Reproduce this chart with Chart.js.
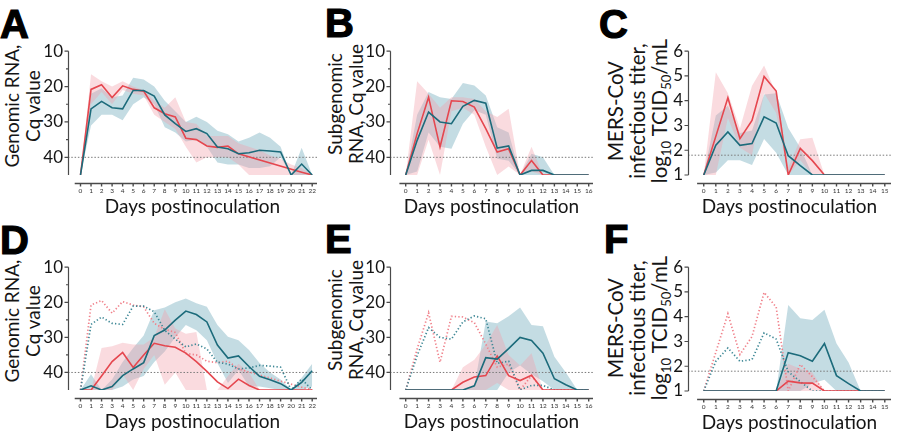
<!DOCTYPE html>
<html><head><meta charset="utf-8">
<script src="https://cdn.jsdelivr.net/npm/chart.js@4"></script>
<style>
body{margin:0;width:900px;height:439px;background:#fff;position:relative;overflow:hidden;font-family:Lato,sans-serif;}
canvas{position:absolute;}
.lt{position:absolute;font-family:"Liberation Sans",Arial,sans-serif;font-weight:bold;font-size:40px;line-height:40px;color:#000;-webkit-text-stroke:1.2px #000;}
.yt{position:absolute;white-space:nowrap;text-align:center;font-family:Lato,sans-serif;font-size:19px;line-height:21px;color:#151515;transform:translate(-50%,-50%) rotate(-90deg);}
.yt.t{font-size:20.5px;line-height:22px;}
.yt sub{font-size:13px;line-height:0;vertical-align:-4px;}
</style></head><body>
<div class="lt" style="left:0px;top:4px">A</div>
<div class="lt" style="left:325px;top:3px">B</div>
<div class="lt" style="left:599px;top:4px">C</div>
<div class="lt" style="left:0px;top:220px">D</div>
<div class="lt" style="left:325px;top:219px">E</div>
<div class="lt" style="left:604px;top:219px">F</div>
<div class="yt" style="left:21.5px;top:106px">Genomic RNA,<br>Cq value</div>
<div class="yt" style="left:345px;top:104px">Subgenomic<br>RNA, Cq value</div>
<div class="yt t" style="left:637px;top:111px">MERS-CoV<br>infectious titer,<br>log<sub>10</sub> TCID<sub>50</sub>/mL</div>
<div class="yt" style="left:21.5px;top:321px">Genomic RNA,<br>Cq value</div>
<div class="yt" style="left:345px;top:320px">Subgenomic<br>RNA, Cq value</div>
<div class="yt t" style="left:637px;top:328px">MERS-CoV<br>infectious titer,<br>log<sub>10</sub> TCID<sub>50</sub>/mL</div>
<script>
// ---------- data ----------
const days22 = [0,1,2,3,4,5,6,7,8,9,10,11,12,13,14,15,16,17,18,19,20,21,22];
const days16 = [0,1,2,3,4,5,6,7,8,9,10,11,12,13,14,15,16];
const days15 = [0,1,2,3,4,5,6,7,8,9,10,11,12,13,14,15];
const yTicksCq = [10,20,30,40];
const yMinorCq = [15,25,35];
const yTicksTiter = [1,2,3,4,5,6];
const cqLimit = 40;
const titerLimit = 1.8;
const xTitle = 'Days postinoculation';

// Panel A (genomic RNA)
const gRedA  = [45,20.8,19.5,23.1,19.8,20.8,21.3,26.0,27.7,28.6,34.6,35.0,36.8,37.2,36.8,39.0,null,null,null,null,null,44.2,45];
const gBlueA = [45,26.3,24.2,26.0,26.3,21.1,21.1,22.7,28.0,30.5,32.7,31.9,33.3,37.1,37.6,39.0,38.7,38.0,38.2,38.5,45,41.9,45];
const gRedHiA  = [45,16.5,18.5,20,18.5,20,21,24,26,23,30,30.5,34,34,34,36,37,38,39.5,40.5,42,43,45];
const gRedLoA  = [45,25,21.5,25,21,22,22.5,28,30,32,37,41.5,40,40,40,42,45,45,45,45,45,45,45];
const gBlueHiA = [45,22,20.5,23,22.5,17.5,18,20,24,27,30,28.5,30,32.5,33.5,35.5,34.5,33,34.5,37,45,37.3,45];
const gBlueLoA = [45,31,28,28,29.5,25,23,25,31.5,33,35.5,35,37,41.5,42,42,43,43,42.5,40,45,45,45];

// Panel B (subgenomic RNA)
const sRedB  = [45,33.3,23,37.1,24,24.2,25.8,31.9,38.5,37.6,45,40.9,45,45,45,45,45];
const sBlueB = [45,35.2,27.2,30,30.5,25.6,23.9,24.7,37.4,36.8,45,43.7,43.7,45,45,45,45];
const sRedHiB  = [45,18.5,22,26,23,23,23.5,27,28.6,26.3,45,37,45,45,45,45,45];
const sRedLoB  = [45,45,35,45,27,26,28,37,45,42.6,45,44,45,45,45,45,45];
const sBlueHiB = [45,28,21.5,23,23.5,19,19.7,22.5,31.5,33,45,39,40,45,45,45,45];
const sBlueLoB = [45,44,33,37,37.6,30.5,26.7,28,40.4,41,45,45,45,45,45,45,45];

// Panel C (infectious titer)
const tRedC  = [1,2.56,4.12,2.47,3.2,4.98,4.39,1.0,2.07,1.58,1,1,1,1,1,1];
const tBlueC = [1,2.2,2.74,2.2,2.27,3.35,3.1,1.78,1.38,1,1,1,1,1,1,1];
const tRedHiC  = [1,5.15,4.3,2.88,4.6,5.42,4.3,1.3,2.44,2.5,1,1,1,1,1,1];
const tRedLoC  = [1,1,3.3,2.1,1.8,4.3,3.5,1,1.6,1,1,1,1,1,1,1];
const tBlueHiC = [1,3.4,3.8,2.7,2.8,4.25,4.3,2.9,2.1,1,1,1,1,1,1,1];
const tBlueLoC = [1,1.1,1.6,1.6,1.4,2.45,1.9,1,1,1,1,1,1,1,1,1];

// Panel D (genomic RNA, second group)
const gRedD  = [45,45,41,36.9,34.3,38.6,35,31.7,32.4,32.8,34.5,36.9,39.7,42.7,44.6,41.9,43.7,45,45,45,45,45,45];
const gBlueD = [45,43.8,45,44,40.9,39,37.2,29.5,27.9,25.1,22.5,23.5,25.6,32.2,35.9,35.3,38.3,41.1,42.1,43.2,45,42.8,39.5];
const gRedHiD  = [45,45,33,32.5,31.5,32,32,30,22,27.5,29,28.5,45,45,41,37.5,40,45,45,45,45,45,45];
const gRedLoD  = [45,45,45,45,40.5,45,39,35,43.5,40,45,45,45,45,45,45,45,45,45,45,45,45,45];
const gBlueHiD = [45,40.5,45,42,37,33,29.5,22.3,21.5,20,18.9,20.3,21.3,26.5,29.8,30.8,33.6,37.3,40,42,45,41.5,37.5];
const gBlueLoD = [45,45,45,45,44,42,41,37,34,30,26.5,28,30.8,37.3,43,39.3,44,44,44.5,45,45,45,44];

// Panel E (subgenomic RNA, second group)
const sRedE  = [45,45,45,45,45,42.8,41.3,40.9,35.3,40.9,42.3,40.8,45,45,45,45,45];
const sBlueE = [45,45,45,45,45,45,43.8,35.8,36.2,33.2,30,30.9,34.5,41.8,43.5,45,45];
const sRedHiE  = [45,45,45,45,45,38.5,36.4,32,26.5,35,38,34.5,45,45,45,45,45];
const sRedLoE  = [45,45,45,45,45,45,45,45,43,45,45,45,45,45,45,45,45];
const sBlueHiE = [45,45,45,45,45,45,44,25.5,26,24,21.5,26.5,26.8,35.5,40,45,45];
const sBlueLoE = [45,45,45,45,45,45,45,45,45,40,38,40.5,42.5,45,45,45,45];

// Panel F (infectious titer, second group)
const tRedF  = [1,1,1,1,1,1,1,1.4,1.33,1.32,1,1,1,1,1,1];
const tBlueF = [1,1,1,1,1,1,1,2.55,2.42,2.2,2.92,1.62,1.3,1,1,1];
const tRedHiF  = [1,1,1,1,1,1,1,2.1,1.9,1.75,1,1,1,1,1,1];
const tRedLoF  = [1,1,1,1,1,1,1,1,1,1,1,1,1,1,1,1];
const tBlueHiF = [1,1,1,1,1,1,1,4.47,3.94,3.87,4.28,2.92,2.15,1,1,1];
const tBlueLoF = [1,1,1,1,1,1,1,1,1,1.3,1.45,1,1,1,1,1];

// ---------- styles ----------
const RED = '#e5474f';
const BLUE = '#1c6b7b';
const RED_DOT = '#f0808a';
const BLUE_DOT = '#3e8896';
const PINK_FILL = 'rgba(242,160,170,0.38)';
const BLUE_FILL = 'rgba(125,178,194,0.45)';
const AXIS = '#4a4a4a';

const prismAxes = {
  id: 'prismAxes',
  afterDraw(chart, args, o) {
    const {ctx, chartArea: ca, scales: {x, y}} = chart;
    ctx.save();
    ctx.strokeStyle = AXIS;
    ctx.lineWidth = 1.2;
    ctx.beginPath();
    const lx = Math.round(ca.left) + 0.5;
    ctx.moveTo(lx, ca.top); ctx.lineTo(lx, ca.bottom);
    o.yTicks.forEach(v => { const py = y.getPixelForValue(v); ctx.moveTo(lx - 4, py); ctx.lineTo(lx, py); });
    (o.yMinor || []).forEach(v => { const py = y.getPixelForValue(v); ctx.moveTo(lx - 2.5, py); ctx.lineTo(lx, py); });
    ctx.stroke();
    ctx.lineWidth = 1.4;
    ctx.beginPath();
    const by = Math.round(ca.bottom + 8) + 0.5;
    ctx.moveTo(x.getPixelForValue(o.xStart), by); ctx.lineTo(ca.right, by);
    o.days.forEach(d => { const px = x.getPixelForValue(d); ctx.moveTo(px, by); ctx.lineTo(px, by + 3); });
    ctx.stroke();
    ctx.restore();
  }
};

function makePanel(p) {
  const [pl, pt, pr, pb] = p.rect;
  const N = p.days[p.days.length - 1];
  const ppd = (p.dayN - p.day0) / N;
  const xMin = -(p.day0 - pl) / ppd;
  const xMax = N + (pr - p.dayN) / ppd;
  const CL = Math.round(pl) - 45, CT = Math.round(pt) - 12;
  const CW = Math.round(pr) + 6 - CL, CH = Math.round(pb) + 43 - CT;
  const cv = document.createElement('canvas');
  cv.width = CW; cv.height = CH;
  cv.style.left = CL + 'px'; cv.style.top = CT + 'px';
  cv.style.width = CW + 'px'; cv.style.height = CH + 'px';
  document.body.appendChild(cv);
  const pts = v => p.days.map((d, i) => ({x: d, y: v[i]}));
  const ds = [];
  ds.push({data: pts(p.blue), borderColor: BLUE, borderWidth: 1.6, order: 0, fill: false});
  ds.push({data: pts(p.red), borderColor: RED, borderWidth: 1.6, order: 1, fill: false, spanGaps: true});
  if (p.dotBlue) {
    ds.push({data: pts(p.dotBlue), borderColor: BLUE_DOT, borderWidth: 1.7, borderDash: [1.3, 2.2], order: 2, fill: false, spanGaps: true});
    ds.push({data: pts(p.dotRed), borderColor: RED_DOT, borderWidth: 1.7, borderDash: [1.3, 2.2], order: 3, fill: false, spanGaps: true});
  }
  ds.push({data: [{x: xMin, y: p.limit}, {x: xMax, y: p.limit}], borderColor: '#7a7a7a', borderWidth: 1, borderDash: [1.5, 1.8], order: 4, fill: false});
  ds.push({data: pts(p.redLo), borderWidth: 0, borderColor: 'rgba(0,0,0,0)', order: 5, fill: false});
  ds.push({data: pts(p.redHi), borderWidth: 0, borderColor: 'rgba(0,0,0,0)', backgroundColor: PINK_FILL, order: 5, fill: '-1'});
  ds.push({data: pts(p.blueLo), borderWidth: 0, borderColor: 'rgba(0,0,0,0)', order: 6, fill: false});
  ds.push({data: pts(p.blueHi), borderWidth: 0, borderColor: 'rgba(0,0,0,0)', backgroundColor: BLUE_FILL, order: 6, fill: '-1'});

  new Chart(cv, {
    type: 'line',
    data: {datasets: ds},
    options: {
      responsive: false, animation: false, events: [],
      layout: {padding: {left: 0, top: 12, right: 6, bottom: 0}},
      elements: {point: {radius: 0}, line: {tension: 0}},
      plugins: {legend: {display: false}, tooltip: {enabled: false},
        prismAxes: {yTicks: p.yTicks, yMinor: p.yMinor, days: p.days, xStart: -0.55}},
      scales: {
        x: {type: 'linear', min: xMin, max: xMax,
          border: {display: false},
          grid: {display: true, drawOnChartArea: false, color: 'rgba(0,0,0,0)', tickLength: 10},
          afterBuildTicks: s => { s.ticks = p.days.map(v => ({value: v})); },
          afterFit: s => { s.height = 43; },
          ticks: {autoSkip: false, maxRotation: 0, padding: 2, color: '#333', font: {family: 'Lato', size: 6.5}},
          title: {display: true, text: xTitle, color: '#151515', padding: {top: 0, bottom: 0}, font: {family: 'Lato', size: 19}}
        },
        y: {type: 'linear', min: p.yMin, max: p.yMax, reverse: p.reverse,
          border: {display: false},
          grid: {display: true, drawOnChartArea: false, color: 'rgba(0,0,0,0)', tickLength: 3},
          afterBuildTicks: s => { s.ticks = p.yTicks.map(v => ({value: v})); },
          afterFit: s => { s.width = 45; },
          ticks: {padding: 2, color: '#151515', font: {family: 'Lato', size: 17}}
        }
      }
    },
    plugins: [prismAxes]
  });
}

makePanel({rect: [67.5, 51, 316.5, 175], day0: 80, dayN: 311.7, days: days22, yMin: 10, yMax: 45, reverse: true,
  yTicks: yTicksCq, yMinor: yMinorCq, limit: cqLimit, red: gRedA, blue: gBlueA,
  redHi: gRedHiA, redLo: gRedLoA, blueHi: gBlueHiA, blueLo: gBlueLoA});
makePanel({rect: [390, 51, 593, 175], day0: 405.7, dayN: 588.7, days: days16, yMin: 10, yMax: 45, reverse: true,
  yTicks: yTicksCq, yMinor: yMinorCq, limit: cqLimit, red: sRedB, blue: sBlueB,
  redHi: sRedHiB, redLo: sRedLoB, blueHi: sBlueHiB, blueLo: sBlueLoB});
makePanel({rect: [688, 51, 890.5, 175], day0: 703.7, dayN: 884.3, days: days15, yMin: 1, yMax: 6, reverse: false,
  yTicks: yTicksTiter, yMinor: [], limit: titerLimit, red: tRedC, blue: tBlueC,
  redHi: tRedHiC, redLo: tRedLoC, blueHi: tBlueHiC, blueLo: tBlueLoC});
makePanel({rect: [67.5, 267, 316.5, 390], day0: 80, dayN: 311.7, days: days22, yMin: 10, yMax: 45, reverse: true,
  yTicks: yTicksCq, yMinor: yMinorCq, limit: cqLimit, red: gRedD, blue: gBlueD, dotRed: gRedA, dotBlue: gBlueA,
  redHi: gRedHiD, redLo: gRedLoD, blueHi: gBlueHiD, blueLo: gBlueLoD});
makePanel({rect: [390, 267, 593, 390], day0: 405.7, dayN: 588.7, days: days16, yMin: 10, yMax: 45, reverse: true,
  yTicks: yTicksCq, yMinor: yMinorCq, limit: cqLimit, red: sRedE, blue: sBlueE, dotRed: sRedB, dotBlue: sBlueB,
  redHi: sRedHiE, redLo: sRedLoE, blueHi: sBlueHiE, blueLo: sBlueLoE});
makePanel({rect: [688, 267, 890.5, 390.7], day0: 703.7, dayN: 884.3, days: days15, yMin: 1, yMax: 6, reverse: false,
  yTicks: yTicksTiter, yMinor: [], limit: titerLimit, red: tRedF, blue: tBlueF, dotRed: tRedC, dotBlue: tBlueC,
  redHi: tRedHiF, redLo: tRedLoF, blueHi: tBlueHiF, blueLo: tBlueLoF});
</script>
</body></html>
